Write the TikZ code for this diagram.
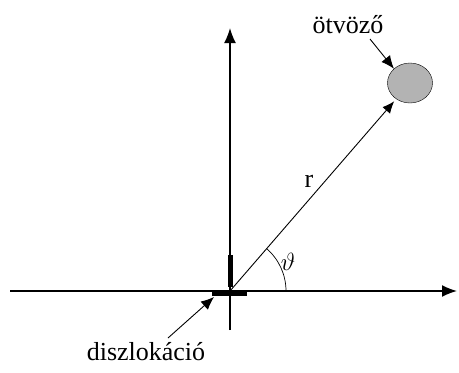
\documentclass[tikz,border=0pt]{standalone}
\usepackage{fontspec}
\setmainfont{Liberation Serif}
\usetikzlibrary{arrows.meta,positioning,shapes.geometric}
\definecolor{aGray}{HTML}{B3B3B3}
\tikzset{
  axis/.style={line width=1.6pt,-{Latex[length=15pt,width=12pt]}},
  pointer/.style={line width=0.9pt,-{Latex[length=13pt,width=11pt]}},
  lbl/.style={font=\fontsize{26}{30}\selectfont, inner sep=1pt}
}
\begin{document}
\begin{tikzpicture}[x=1pt,y=-1pt]
  \useasboundingbox (0,0) rectangle (459,373);
  \coordinate (O) at (230,291);
  \coordinate (xl) at (10,291);
  \coordinate (xr) at (457,291);
  \coordinate (yb) at (230,330);
  \coordinate (yt) at (230,28);
  \draw[axis] (xl) -- (xr);
  \draw[axis] (yb) -- (yt);
  % dislocation symbol
  \fill (227.5,255) rectangle (232.5,287);
  \fill (212,291) rectangle (247,295.5);
  \coordinate (disl) at (214,297);
  % alloy atom
  \node[ellipse, draw, fill=aGray, minimum width=45, minimum height=40, inner sep=0pt] (alloy) at (410,83) {};
  \draw[line width=0.9pt,-{Latex[length=12pt,width=10pt]}, shorten >=3pt] (O) -- (alloy);
  \draw[line width=0.7pt] (O) ++(56,0) arc[start angle=0, end angle=-49, radius=56];
  \node[lbl] (r) at (309,181) {r};
  \node[lbl] (theta) at (288,262) {$\vartheta$};
  % labels
  \node[lbl] (otvozo) at (348,25) {ötvöző};
  \coordinate (otail) at (370,39);
  \draw[pointer] (otail) -- (alloy.north west);
  \node[lbl] (diszl) at (146,352) {diszlokáció};
  \coordinate (dtail) at (168,338);
  \draw[pointer] (dtail) -- (disl);
\end{tikzpicture}
\end{document}
